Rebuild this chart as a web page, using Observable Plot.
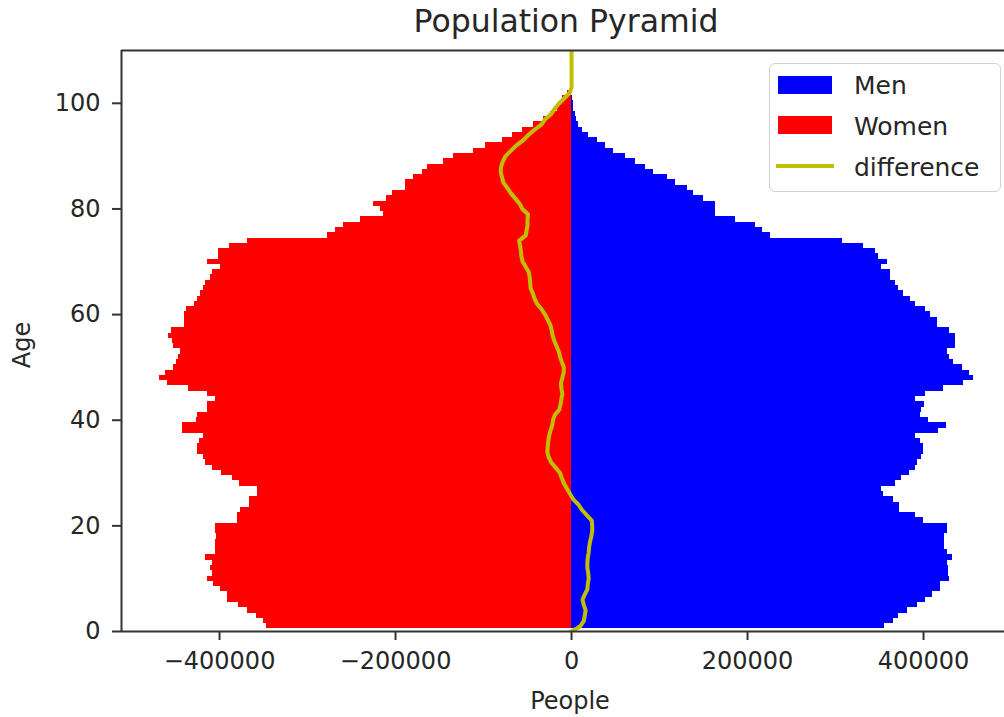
<!DOCTYPE html>
<html>
<head>
<meta charset="utf-8">
<script src="https://cdn.jsdelivr.net/npm/d3@7"></script>
<script src="https://cdn.jsdelivr.net/npm/@observablehq/plot@0.6"></script>
<style>
  html, body { margin: 0; padding: 0; background: #fff; overflow: hidden; }
  #wrap { position: relative; width: 1004px; height: 717px; font-family: "DejaVu Sans", sans-serif; color: #262626; }
  #wrap svg { position: absolute; left: 0; top: 0; }
  .lbl { position: absolute; white-space: nowrap; line-height: 1; }
  #legend { position: absolute; left: 769px; top: 63px; width: 230px; height: 127px;
            border: 1.5px solid #d0d0d0; border-radius: 6px; background: rgba(255,255,255,0.85); }
  .sw { position: absolute; }
  .lt { position: absolute; left: 84px; font-size: 25px; line-height: 1; white-space: nowrap; }
</style>
</head>
<body>
<div id="wrap"></div>
<script>
// ---- data ----
const ages = [0,1,2,3,4,5,6,7,8,9,10,11,12,13,14,15,16,17,18,19,20,21,22,23,24,25,26,27,28,29,30,31,32,33,34,35,36,37,38,39,40,41,42,43,44,45,46,47,48,49,50,51,52,53,54,55,56,57,58,59,60,61,62,63,64,65,66,67,68,69,70,71,72,73,74,75,76,77,78,79,80,81,82,83,84,85,86,87,88,89,90,91,92,93,94,95,96,97,98,99,100,101,102,103,104,105,106,107,108,109,110];

const men = [0,355700,365500,372000,381400,392800,402300,409900,419300,419300,
  429900,428800,428800,426900,432600,427700,423900,423900,423900,426900,
  426900,399600,390900,373100,373100,365500,354200,351900,368200,374600,
  384500,390900,392800,397400,399600,399600,396600,390900,417400,426200,
  406000,396600,397400,401100,390900,402300,423100,445100,457200,452600,
  443900,434500,429900,426900,436400,436400,436400,429900,415500,415500,
  408000,402300,390900,385200,377700,372000,368200,362500,362500,351900,
  359500,349200,345500,332200,307600,226100,216700,209100,186400,163600,
  163600,163600,150400,139000,131400,118200,108700,93600,84100,72700,
  61400,48100,38600,29200,19700,12100,8000,6000,4500,2700,
  2300,800,300,0,0,0,0,0,0,0,0];

const women = [0,-346600,-349600,-358000,-368600,-378000,-391300,-391300,-398900,-406500,
  -413300,-408300,-410200,-408300,-415900,-404500,-404500,-404500,-403500,-404500,
  -404500,-379200,-379200,-376100,-365500,-365500,-357200,-357200,-376900,-385600,
  -398100,-408300,-415900,-417800,-425400,-425400,-422400,-417800,-442400,-442400,
  -426000,-424600,-413300,-413300,-404500,-413300,-434900,-458700,-467800,-461400,
  -451900,-448900,-446200,-444300,-451900,-453800,-457600,-454900,-439800,-439800,
  -439800,-437500,-428400,-425400,-421600,-418600,-415900,-410200,-408300,-398900,
  -413300,-400800,-400800,-388300,-368600,-277700,-268200,-258800,-239800,-213300,
  -217000,-225400,-210200,-203800,-188600,-188600,-180000,-169700,-164000,-145100,
  -133700,-111000,-97700,-78800,-67400,-56000,-42800,-31500,-23900,-16300,
  -12500,-10600,-4900,-1500,0,0,0,0,0,0,0];

const difference = [0,10000,14000,15000,16000,14000,12500,15000,18000,18500,
  19500,19000,18000,18000,18500,19500,20000,21000,22500,23500,
  23500,23000,17500,12000,8000,2000,-1500,-5000,-8500,-11000,
  -13000,-18000,-23000,-26000,-27500,-27000,-26500,-25500,-24000,-22000,
  -21000,-19000,-14000,-12500,-11500,-10500,-11500,-12000,-10500,-9000,
  -8700,-11000,-13000,-14500,-17000,-19500,-21500,-22500,-24000,-27000,
  -30000,-34000,-39000,-42000,-44000,-46500,-47000,-47500,-48500,-52000,
  -55500,-57000,-57500,-58500,-59500,-52000,-51000,-50000,-50000,-49500,
  -56000,-59000,-64000,-69000,-73000,-77500,-79000,-80500,-80000,-78000,
  -75000,-69000,-63000,-55000,-49000,-42000,-34000,-30000,-23000,-19000,
  -14000,-8000,-2000,0,0,0,0,0,0,0,0];

const xTicks = [-400000, -200000, 0, 200000, 400000];
const yTicks = [0, 20, 40, 60, 80, 100];
const seriesNames = ["Men", "Women", "difference"];
const seriesColors = ["#0000ff", "#ff0000", "#bfbf00"];

// ---- layout ----
const xDomain = [-511400, 492000];
const yDomain = [0, 110];
const spine = "#333333";

const rows = ages.map((a, i) => ({age: a, men: men[i], women: women[i], diff: difference[i]}));

const chart = Plot.plot({
  width: 1004,
  height: 717,
  marginLeft: 121,
  marginRight: 0,
  marginTop: 50,
  marginBottom: 86,
  style: {fontFamily: "DejaVu Sans", fontSize: "24px", color: "#262626", background: "transparent", overflow: "visible"},
  x: {domain: xDomain, label: null},
  y: {domain: yDomain, label: null},
  marks: [
    Plot.rect(rows, {x1: () => 0, x2: "women", y1: d => d.age - 0.5, y2: d => d.age + 0.5,
      fill: seriesColors[1], clip: true, shapeRendering: "crispEdges"}),
    Plot.rect(rows, {x1: () => 0, x2: "men", y1: d => d.age - 0.5, y2: d => d.age + 0.5,
      fill: seriesColors[0], clip: true, shapeRendering: "crispEdges"}),
    Plot.line(rows, {x: "diff", y: "age", stroke: seriesColors[2], strokeWidth: 4,
      strokeLinejoin: "round", strokeLinecap: "square", clip: true}),
    Plot.axisX({ticks: xTicks, tickFormat: d3.format("d"), tickSize: 9, tickPadding: 11,
      stroke: spine, strokeWidth: 2, fontSize: 24, fill: "#262626", label: null}),
    Plot.axisY({ticks: yTicks, tickFormat: d3.format("d"), tickSize: 9, tickPadding: 12,
      stroke: spine, strokeWidth: 2, fontSize: 24, fill: "#262626", label: null}),
    Plot.ruleY([yDomain[0]], {stroke: spine, strokeWidth: 2}),
    Plot.ruleY([yDomain[1]], {stroke: spine, strokeWidth: 2}),
    Plot.ruleX([xDomain[0]], {stroke: spine, strokeWidth: 2})
  ]
});

const wrap = document.getElementById("wrap");
wrap.appendChild(chart);

function addText(txt, css) {
  const d = document.createElement("div");
  d.className = "lbl";
  d.textContent = txt;
  Object.assign(d.style, css);
  wrap.appendChild(d);
  return d;
}
// title and axis labels
addText("Population Pyramid", {fontSize: "31.5px", left: "566px", top: "22px", transform: "translate(-50%, -50%)"});
addText("People", {fontSize: "24px", left: "570px", top: "701px", transform: "translate(-50%, -50%)"});
addText("Age", {fontSize: "24px", left: "22px", top: "345px", transform: "translate(-50%, -50%) rotate(-90deg)"});

// legend
const lg = document.createElement("div");
lg.id = "legend";
wrap.appendChild(lg);
const swCss = [
  {left: "8px", top: "12px", width: "54px", height: "18px"},
  {left: "8px", top: "52px", width: "54px", height: "18px"},
  {left: "6px", top: "100px", width: "58px", height: "4px"}
];
const txtTop = [9, 50, 91];
seriesNames.forEach((name, i) => {
  const s = document.createElement("div");
  s.className = "sw";
  Object.assign(s.style, swCss[i], {background: seriesColors[i]});
  lg.appendChild(s);
  const l = document.createElement("div");
  l.className = "lt";
  l.textContent = name;
  l.style.top = txtTop[i] + "px";
  lg.appendChild(l);
});
</script>
</body>
</html>
